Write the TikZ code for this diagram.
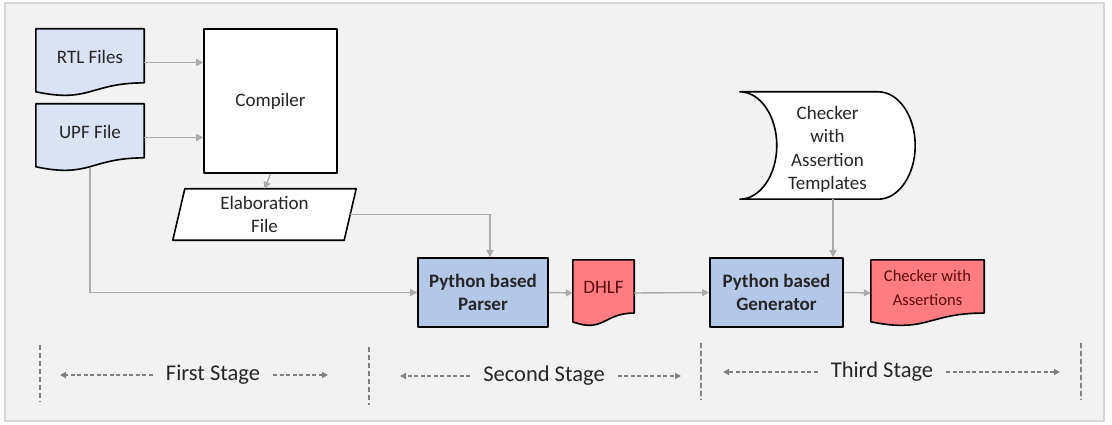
\documentclass[tikz,border=0pt]{standalone}
\usepackage{fontspec}
\setmainfont{Carlito}
\usetikzlibrary{arrows.meta,calc}

\pgfdeclarelayer{bg}
\pgfsetlayers{bg,main}

\definecolor{panelfill}{HTML}{F2F2F2}
\definecolor{panelline}{HTML}{D6D6D6}
\definecolor{docblue}{HTML}{DAE3F3}
\definecolor{procblue}{HTML}{B4C7E7}
\definecolor{outred}{HTML}{FF7C80}
\definecolor{redink}{HTML}{5E0B0B}
\definecolor{connline}{HTML}{ABABAB}
\definecolor{stagegray}{HTML}{7F7F7F}
\definecolor{ink}{HTML}{262626}

% document symbol with a wavy bottom edge, drawn round a named node
\newcommand\docoutline[2]{%
  \draw[outline, fill=#2] let \p1=(#1.north west), \p2=(#1.south east) in
    (\x1,\y1) -- (\x2,\y1) -- (\x2,{(\y1)+0.802*((\y2)-(\y1))})
    .. controls ({0.5*(\x1+\x2)},{(\y1)+0.802*((\y2)-(\y1))})
           and ({0.5*(\x1+\x2)},{(\y1)+1.107*((\y2)-(\y1))})
    .. (\x1,{(\y1)+0.934*((\y2)-(\y1))}) -- cycle;}

% shift a text up or down without changing the box it takes
\newcommand\lift[2]{\raisebox{#1}[\height][\depth]{#2}}

\begin{document}
\begin{tikzpicture}[x=1pt,y=-1pt,
  font=\fontsize{19}{23.5}\selectfont,
  outline/.style={draw=black, line width=1.6pt, line join=round},
  shapebox/.style={inner sep=0pt, text=ink, align=center},
  procbox/.style={shapebox, outline, fill=procblue, font=\fontsize{19}{23.5}\selectfont\bfseries},
  conn/.style={draw=connline, line width=1.4pt, -{Triangle[length=7pt,width=7pt]}},
  stagelbl/.style={inner xsep=13pt, inner ysep=2pt, text=ink, font=\fontsize{22.5}{26}\selectfont},
  stagearr/.style={draw=stagegray, line width=1.3pt, dash pattern=on 4pt off 2.5pt,
                   -{Triangle[length=6pt,width=6pt]}},
  divider/.style={draw=stagegray, line width=1.3pt, dash pattern=on 5pt off 3pt},
]
\useasboundingbox (0,0) rectangle (1112,425);

\begin{pgfonlayer}{bg}
  \draw[draw=panelline, fill=panelfill, line width=1.5pt] (5,3) rectangle (1104,421);
\end{pgfonlayer}

% inputs
\node[shapebox, minimum width=108pt, minimum height=67pt] (rtl) at (90,62.5) {\lift{5.5pt}{RTL Files}};
\node[shapebox, minimum width=108pt, minimum height=67pt] (upf) at (90,137.5) {\lift{5.5pt}{UPF File}};
\node[shapebox, outline, fill=white, minimum width=133pt, minimum height=144pt] (comp) at (270.5,101) {Compiler};
\node[shapebox, minimum width=183pt, minimum height=51pt] (elab) at (264.5,214.5) {\lift{-2pt}{\begin{tabular}{@{}c@{}}Elaboration\\File\end{tabular}}};

% parser and generator
\node[procbox, minimum width=130pt, minimum height=69pt] (parser) at (483,292.5) {Python based\\Parser};
\node[shapebox, text=redink, minimum width=61pt, minimum height=66pt] (dhlf) at (603.5,293) {\lift{6pt}{DHLF}};
\node[shapebox, minimum width=175pt, minimum height=107pt] (tmpl) at (827.5,145.5) {\lift{-4.5pt}{\begin{tabular}{@{}c@{}}Checker\\with\\Assertion\\Templates\end{tabular}}};
\node[procbox, minimum width=133pt, minimum height=69pt] (gen) at (776.5,292.5) {Python based\\Generator};
\node[shapebox, text=redink, font=\fontsize{16.5}{24}\selectfont, minimum width=113pt, minimum height=66pt] (chk) at (927.5,293) {\lift{4.5pt}{\begin{tabular}{@{}c@{}}Checker with\\Assertions\end{tabular}}};

% outlines behind the texts
\begin{pgfonlayer}{bg}
  \docoutline{rtl}{docblue}
  \docoutline{upf}{docblue}
  \docoutline{dhlf}{outred}
  \docoutline{chk}{outred}
  \draw[outline, fill=white] let \p1=(elab.north west), \p2=(elab.south east) in
    ({\x1+12pt},\y1) -- (\x2,\y1) -- ({\x2-12pt},\y2) -- (\x1,\y2) -- cycle;
  \draw[outline, fill=white]
    (tmpl.north west) -- ([xshift=-37pt]tmpl.north east)
    .. controls ([xshift=-16.6pt]tmpl.north east) and ([yshift=29.5pt]tmpl.east) .. (tmpl.east)
    .. controls ([yshift=-29.5pt]tmpl.east) and ([xshift=-16.6pt]tmpl.south east) .. ([xshift=-37pt]tmpl.south east)
    -- (tmpl.south west)
    .. controls ([xshift=20.4pt]tmpl.south west) and ([xshift=37pt,yshift=-29.5pt]tmpl.west) .. ([xshift=37pt]tmpl.west)
    .. controls ([xshift=37pt,yshift=29.5pt]tmpl.west) and ([xshift=20.4pt]tmpl.north west) .. (tmpl.north west)
    -- cycle;
\end{pgfonlayer}

% connectors
\draw[conn] (rtl.east) -- (rtl.east -| comp.west);
\draw[conn] (upf.east) -- (upf.east -| comp.west);
\draw[conn] (comp.south) -- (elab.north);
\draw[conn] ([xshift=-6pt]elab.east) -| ([xshift=7pt]parser.north);
\draw[conn] ([yshift=3pt]upf.south) |- (parser.west);
\draw[conn] (parser.east) -- (dhlf.west);
\draw[conn] (dhlf.east) -- (gen.west);
\draw[conn] ([xshift=5.5pt]tmpl.south) -- ([xshift=5.5pt]tmpl.south |- gen.north);
\draw[conn] (gen.east) -- (chk.west);

% stage dividers
\coordinate (d1t) at (40,345);  \coordinate (d1b) at (40,402);
\coordinate (d2t) at (369,347); \coordinate (d2b) at (369,405);
\coordinate (d3t) at (701,343); \coordinate (d3b) at (701,400);
\coordinate (d4t) at (1081,343);\coordinate (d4b) at (1081,400);
\draw[divider] (d1t) -- (d1b);
\draw[divider] (d2t) -- (d2b);
\draw[divider] (d3t) -- (d3b);
\draw[divider] (d4t) -- (d4b);

% stage labels with their spans
\node[stagelbl] (s1) at (213,375) {First Stage};
\node[stagelbl] (s2) at (544,376) {Second Stage};
\node[stagelbl] (s3) at (882,372) {Third Stage};
\coordinate (s1l) at (60,375);  \coordinate (s1r) at (328,375);
\coordinate (s2l) at (400,376); \coordinate (s2r) at (681,376);
\coordinate (s3l) at (723,372); \coordinate (s3r) at (1060,372);
\draw[stagearr] (s1.west) -- (s1l);
\draw[stagearr] (s1.east) -- (s1r);
\draw[stagearr] (s2.west) -- (s2l);
\draw[stagearr] (s2.east) -- (s2r);
\draw[stagearr] (s3.west) -- (s3l);
\draw[stagearr] (s3.east) -- (s3r);
\end{tikzpicture}
\end{document}
